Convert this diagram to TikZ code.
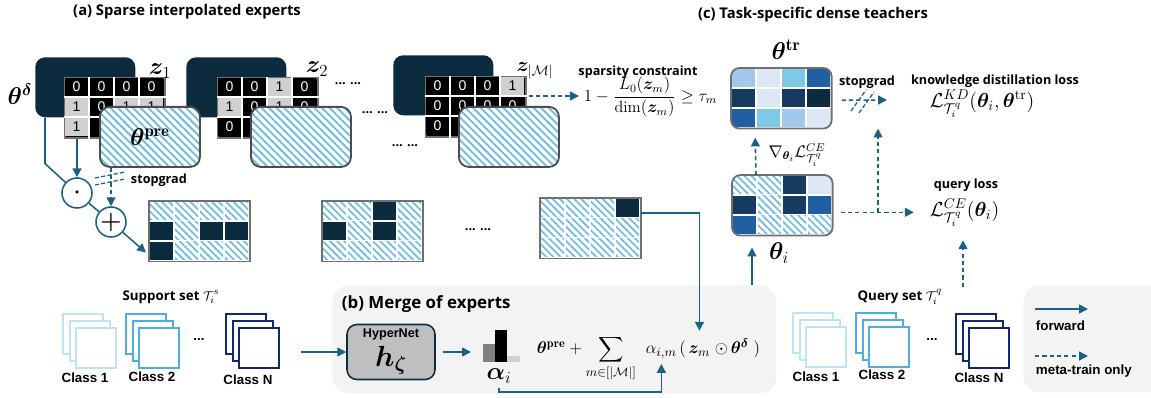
\documentclass[tikz,border=0pt]{standalone}
\usepackage{fontspec}
\usepackage{amsmath,amssymb,bm}
\newfontfamily\hd{Open Sans}
\newfontfamily\ar{Liberation Sans}
\usetikzlibrary{calc,positioning,arrows.meta,patterns.meta}

\definecolor{navy}{RGB}{12,43,62}
\definecolor{flow}{RGB}{26,98,132}
\definecolor{hatch}{RGB}{108,187,226}
\definecolor{rim}{RGB}{112,112,112}
\definecolor{bitgray}{RGB}{208,208,208}
\definecolor{panel}{RGB}{243,243,243}
\definecolor{tA}{RGB}{164,200,234}
\definecolor{tB}{RGB}{220,232,245}
\definecolor{tC}{RGB}{126,200,232}
\definecolor{tM}{RGB}{32,96,160}
\definecolor{tE}{RGB}{22,58,96}
\definecolor{cone}{RGB}{190,226,246}
\definecolor{ctwo}{RGB}{78,174,226}
\definecolor{cN}{RGB}{18,40,108}

\tikzset{
  fwd/.style={flow, line width=1.1pt, -{Triangle[length=2.2mm,width=2.2mm]}},
  meta/.style={fwd, dash pattern=on 3pt off 2.2pt},
  cut/.style={flow, line width=0.9pt, dash pattern=on 3pt off 1.5pt},
  title/.style={font=\hd\bfseries\fontsize{10.5}{12}\selectfont},
  lbl/.style={font=\hd\bfseries\fontsize{9}{11}\selectfont},
  cls/.style={font=\ar\bfseries\fontsize{9.5}{11}\selectfont},
  delta/.style={fill=navy, rounded corners=7pt, minimum width=2.5cm,
    minimum height=1.5cm, inner sep=0pt, anchor=north west},
  pre/.style={draw=black!70, line width=1.3pt, preaction={fill=white},
    pattern={Lines[angle=-45,distance=3.8pt,line width=1.3pt]},
    pattern color=hatch, rounded corners=7pt, minimum width=2.5cm,
    minimum height=1.5cm, inner sep=0pt, anchor=north west},
  zbox/.style={draw=rim, line width=1.3pt, fill=black, minimum width=2.5cm,
    minimum height=1.5cm, inner sep=0pt, anchor=north west},
  grid/.style={minimum width=2.5cm, minimum height=1.5cm, inner sep=0pt,
    anchor=north west},
  bit0/.style={fill=black, text=white, minimum width=0.575cm,
    minimum height=0.45cm, inner sep=0pt, font=\ar\fontsize{10}{12}\selectfont},
  bit1/.style={bit0, fill=bitgray, text=black},
  cellH/.style={pattern={Lines[angle=-45,distance=3.6pt,line width=1.2pt]},
    pattern color=hatch},
  cellD/.style={fill=navy},
  cellA/.style={fill=tA}, cellB/.style={fill=tB}, cellC/.style={fill=tC},
  cellM/.style={fill=tM}, cellE/.style={fill=tE},
  op/.style={circle, draw=flow, line width=1.1pt, fill=white,
    minimum size=0.75cm, inner sep=0pt},
  page/.style={fill=white, line width=1.6pt, minimum size=1cm, inner sep=0pt,
    anchor=north west},
  hyper/.style={fill=black!25, draw=navy, line width=1.1pt, rounded corners=7pt,
    minimum width=2.2cm, minimum height=1.375cm, inner sep=0pt},
  shade/.style={fill=panel, rounded corners=12pt, inner sep=0pt,
    anchor=north west}
}

\newcommand\bits[2]{%
  \foreach \k in {1,2}
    \draw[white, line width=1.4pt] ($(#1.north west)+(0,\k*20)$) -- ($(#1.north east)+(0,\k*20)$);
  \foreach \k in {1,2,3}
    \draw[white, line width=1.4pt] ($(#1.north west)+(\k*25,0)$) -- ($(#1.south west)+(\k*25,0)$);
  \foreach \c/\r/\v in {#2}
    \node[bit\v] (#1-\c-\r) at ($(#1.north west)+(\c*25+12.5,\r*20+10)$) {\v};
}
\newcommand\cells[3][0pt]{%
  \fill[white, rounded corners=#1] (#2.north west) rectangle (#2.south east);
  \begin{scope}
    \clip[rounded corners=#1] (#2.north west) rectangle (#2.south east);
    \foreach \c/\r/\k in {#3}
      \fill[cell\k] ($(#2.north west)+(\c*25+1,\r*20+1)$) rectangle ++(23,18);
  \end{scope}
  \draw[rim, line width=1.3pt, rounded corners=#1]
    (#2.north west) rectangle (#2.south east);
}
\newcommand\classstack[3]{%
  \foreach \s in {0,1,2}
    \node[page, draw=#3] (#1-\s) at ($(#2)+(\s*6.5,\s*7)$) {};%
}

\begin{document}
\begin{tikzpicture}[x=0.025cm, y=-0.025cm]
  \useasboundingbox (0,0) rectangle (1151,398);

  % (a) sparse interpolated experts
  \node[title] (titlea) at (187,12) {(a) Sparse interpolated experts};

  \node[delta] (d1) at (35,57) {};
  \node[zbox] (z1) at (64,77) {};
  \bits{z1}{0/0/0,1/0/0,2/0/0,3/0/0,0/1/1,1/1/0,2/1/1,3/1/1,0/2/1}
  \node[delta] (d2) at (186,57) {};
  \node[zbox] (z2) at (217,77) {};
  \bits{z2}{0/0/0,1/0/0,2/0/1,3/0/0,0/1/1,1/1/0,2/1/1,3/1/0,0/2/0}
  \node[delta] (dM) at (393,55) {};
  \node[zbox] (zM) at (425,76) {};
  \bits{zM}{0/0/0,1/0/0,2/0/0,3/0/1,0/1/0,1/1/0,2/1/0,3/1/0,0/2/0}

  \node[pre, font=\LARGE] (p1) at (99,106) {$\bm{\theta}^{\mathbf{pre}}$};
  \node[pre] (p2) at (250,106) {};
  \node[pre] (pM) at (458,106) {};

  \node[font=\LARGE] (ldelta) at (20,94) {$\bm{\theta}^{\bm{\delta}}$};
  \node[font=\LARGE] (lz1) at (160,71) {$\bm{z}_1$};
  \node[font=\LARGE] (lz2) at (317,69) {$\bm{z}_2$};
  \node[font=\Large] (lzM) at (535,71) {$\bm{z}_{|\mathcal{M}|}$};
  \node[lbl] (gapa) at (348,84) {... ...};
  \node[lbl] (gapb) at (375,113) {... ...};
  \node[lbl] (gapc) at (405,146) {... ...};

  \node[lbl] (sparslbl) at (638,72) {sparsity constraint};
  \node[font=\fontsize{11.5}{13}\selectfont, anchor=west] (spars) at (579,97)
    {$1-\dfrac{L_0(\bm{z}_m)}{\dim(\bm{z}_m)}\geq\tau_m$};
  \coordinate (zMout) at ($(zM.north east)+(2,20)$);
  \draw[meta] (zMout) -- (zMout -| spars.west);

  \node[op] (dot) at (77,193) {\Large$\bm{\cdot}$};
  \node[op] (plus) at (111,222) {\LARGE$\bm{+}$};
  \draw[flow, line width=1.1pt] ($(d1.south west)+(10,0)$) -- ++(0,46) -- (dot);
  \draw[fwd] (dot |- z1.south) -- (dot);
  \draw[flow, line width=1.1pt] (dot) -- (plus);
  \draw[meta] (plus |- p1.south) -- (plus);
  \draw[cut] (95,178) -- (125,172);
  \draw[cut] (95,185) -- (125,179);
  \node[lbl, anchor=west] (sg1) at (126,180) {stopgrad};

  \node[grid] (g1) at (149,201) {};
  \cells{g1}{0/0/H,1/0/H,2/0/H,3/0/H,0/1/D,1/1/H,2/1/D,3/1/D,0/2/D,1/2/H,2/2/H,3/2/H}
  \node[grid] (g2) at (322,201) {};
  \cells{g2}{0/0/H,1/0/H,2/0/D,3/0/H,0/1/D,1/1/H,2/1/D,3/1/H,0/2/H,1/2/H,2/2/H,3/2/H}
  \node[lbl] (gapd) at (478,230) {... ...};
  \node[grid] (gM) at (540,198) {};
  \cells{gM}{0/0/H,1/0/H,2/0/H,3/0/D,0/1/H,1/1/H,2/1/H,3/1/H,0/2/H,1/2/H,2/2/H,3/2/H}
  \draw[fwd] (plus) -- ($(g1.south west)+(-3,-9)$);

  % (b) merge of experts
  \node[shade, minimum width=11.1cm, minimum height=2.7cm] (b) at (332,285) {};
  \node[font=\hd\bfseries\fontsize{12}{14}\selectfont, anchor=west] (titleb)
    at (337,304) {(b) Merge of experts};
  \node[hyper, align=center] (hyper) at (391,352)
    {{\ar\bfseries\fontsize{9}{10}\selectfont HyperNet}\\[3pt]{\huge$\bm{h}_{\bm{\zeta}}$}};
  \coordinate (bars) at (471,352);
  \fill[black!50] (483,344) rectangle (495,362);
  \fill[black] (495,330) rectangle (507,362);
  \fill[black!18] (507,356) rectangle (520,362);
  \node[font=\LARGE] (alphai) at (499,376) {$\bm{\alpha}_i$};
  \draw[fwd, shorten <=5pt] (hyper) -- (bars);

  \begin{scope}[font=\fontsize{12.5}{14}\selectfont]
    \node[anchor=base east] (fsum) at (641,354)
      {$\bm{\theta}^{\mathbf{pre}}+\displaystyle\sum_{m\in[|\mathcal{M}|]}$};
    \node[anchor=base west] (alpha) at (641,354) {$\alpha_{i,m}$};
    \node[anchor=base west, inner sep=0pt] (lpar) at (679,354) {$($};
    \node[anchor=base west, inner sep=1pt] (zm) at (687,354) {$\bm{z}_m$};
    \node[anchor=base west] (rest) at (710,354) {$\odot\,\bm{\theta}^{\bm{\delta}}\;)$};
  \end{scope}
  \draw[fwd, shorten >=10pt] ($(gM.north east)+(0,15)$) -| (zm.north);
  \draw[fwd] (alphai.south) -- ++(0,4) -| (alpha.south);

  % support set
  \node[font=\hd\bfseries\fontsize{9.5}{11}\selectfont] (suplbl) at (171,297)
    {Support set $\mathcal{T}_i^s$};
  \classstack{s1}{62,313}{cone}
  \classstack{s2}{125,313}{ctwo}
  \classstack{sN}{225,313}{cN}
  \node[cls] (s1lbl) at (85,378) {Class 1};
  \node[cls] (s2lbl) at (152,377) {Class 2};
  \node[cls] (sNlbl) at (248,380) {Class N};
  \node[cls] (sdots) at (199,340) {...};
  \draw[fwd, shorten <=15pt] (hyper.west -| sN-2.east) -- (hyper.west);

  % (c) task-specific dense teachers
  \node[title] (titlec) at (813,15) {(c) Task-specific dense teachers};
  \node[grid] (ttr) at (731,68) {};
  \cells[6pt]{ttr}{0/0/A,1/0/B,2/0/C,3/0/M,0/1/E,1/1/B,2/1/E,3/1/D,0/2/M,1/2/C,2/2/A,3/2/B}
  \node[font=\LARGE] (ltr) at (786,50) {$\bm{\theta}^{\mathbf{tr}}$};
  \node[grid] (ti) at (732,175) {};
  \cells[6pt]{ti}{0/0/H,1/0/H,2/0/E,3/0/B,0/1/E,1/1/H,2/1/E,3/1/M,0/2/M,1/2/H,2/2/H,3/2/H}
  \node[font=\LARGE] (lti) at (779,253) {$\bm{\theta}_i$};

  \coordinate (bup) at (752,285);
  \draw[fwd, shorten >=0.3cm] (bup) -- (bup |- ti.south);
  \draw[meta, shorten >=0.225cm] ($(ti.north west)+(24,0)$) -- ($(ttr.south west)+(24,0)$);
  \node[font=\large] (grad) at (797,155) {$\nabla_{\bm{\theta}_i}\mathcal{L}^{CE}_{\mathcal{T}_i^q}$};

  \node[lbl] (sg2) at (867,82) {stopgrad};
  \coordinate (kdin) at (887,100);
  \draw[meta] ($(ttr.east)+(10,2)$) -- (kdin);
  \draw[cut] (851,111) -- (866,90);
  \draw[cut] (859,113) -- (874,92);
  \node[lbl] (kdlbl) at (995,81) {knowledge distillation loss};
  \node[font=\Large] (kd) at (982,104)
    {$\mathcal{L}^{KD}_{\mathcal{T}_i^q}(\bm{\theta}_i,\bm{\theta}^{\mathrm{tr}})$};

  \node[lbl] (qlosslbl) at (966,185) {query loss};
  \node[font=\Large, anchor=west] (qform) at (925,213)
    {$\mathcal{L}^{CE}_{\mathcal{T}_i^q}(\bm{\theta}_i)$};
  \coordinate (tiout) at ($(ti.east)+(8,7)$);
  \coordinate (split) at (878,212);
  \draw[meta, shorten >=8pt] (tiout) -- (tiout -| qform.west);
  \draw[meta] (split) -- (split |- ttr.south);

  % query set
  \node[font=\hd\bfseries\fontsize{9.5}{11}\selectfont] (qlbl) at (900,297)
    {Query set $\mathcal{T}_i^q$};
  \classstack{q1}{792,312}{cone}
  \classstack{q2}{855,312}{ctwo}
  \classstack{qN}{955,313}{cN}
  \node[cls] (q1lbl) at (816,377) {Class 1};
  \node[cls] (q2lbl) at (882,375) {Class 2};
  \node[cls] (qNlbl) at (979,378) {Class N};
  \node[cls] (qdots) at (932,340) {...};
  \coordinate (qup) at (963,287);
  \draw[meta, shorten >=6pt] (qup) -- (qup |- qform.south);

  % legend
  \node[shade, minimum width=3.75cm, minimum height=2.675cm] (leg) at (1023,285) {};
  \coordinate (fa) at (1035,309);
  \coordinate (fb) at (1088,309);
  \draw[fwd] (fa) -- (fb);
  \node[cls, anchor=west] (fwdlbl) at (1031,326) {forward};
  \coordinate (ma) at (1035,356);
  \coordinate (mb) at (1088,356);
  \draw[meta] (ma) -- (mb);
  \node[cls, anchor=west] (metalbl) at (1031,371) {meta-train only};
\end{tikzpicture}
\end{document}
